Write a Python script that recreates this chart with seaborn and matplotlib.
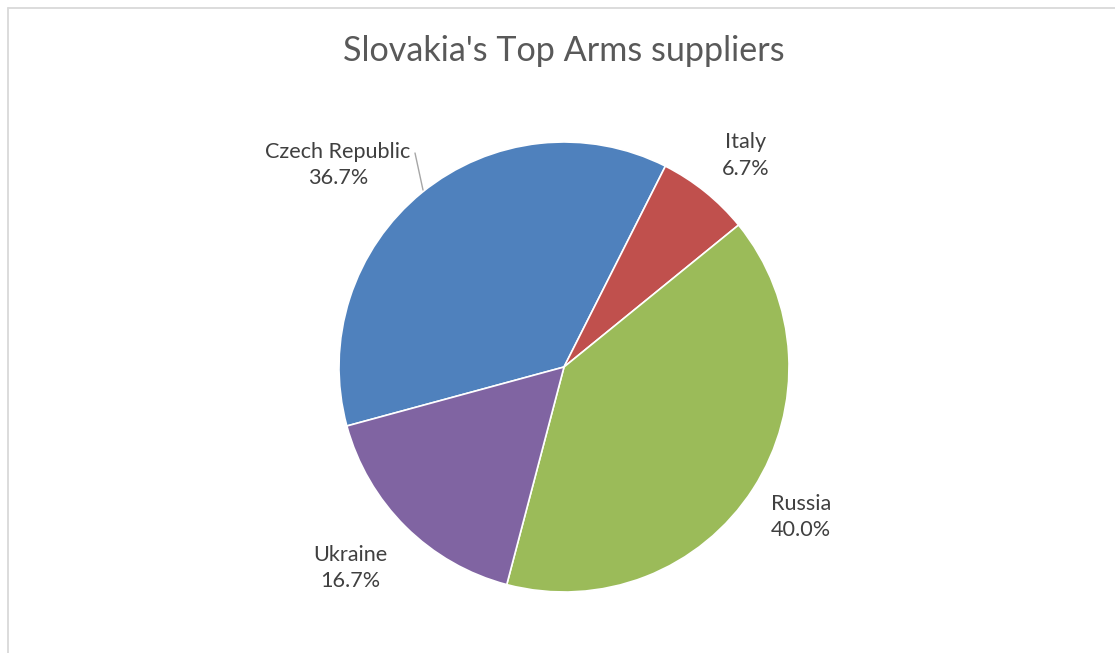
import matplotlib
matplotlib.use("Agg")
import matplotlib.pyplot as plt
import seaborn as sns

# Supplier shares (percent of arms imports)
suppliers = ["Czech Republic", "Italy", "Russia", "Ukraine"]
shares = [36.7, 6.7, 40.0, 16.7]
slice_colors = ["#4F81BD", "#C0504D", "#9BBB59", "#8064A2"]

sns.set_theme(style="white")
plt.rcParams["font.family"] = ["Lato", "DejaVu Sans"]

fig = plt.figure(figsize=(11.15, 6.53), dpi=100)
fig.patch.set_facecolor("white")

# Thin chart-area frame along the top and left edges
fig.add_artist(plt.Line2D([7.5 / 1115, 1.0], [1 - 7.5 / 653] * 2,
                          color="#D9D9D9", lw=1.3, transform=fig.transFigure))
fig.add_artist(plt.Line2D([7.5 / 1115] * 2, [0.0, 1 - 7.5 / 653],
                          color="#D9D9D9", lw=1.3, transform=fig.transFigure))

cx, cy, r = 564, 367, 225
ax = fig.add_axes([(cx - r) / 1115, (653 - cy - r) / 653, 2 * r / 1115, 2 * r / 653])

palette = sns.color_palette(slice_colors)
wedges, _ = ax.pie(shares, colors=palette, startangle=195.2, counterclock=False,
                   radius=1.0, wedgeprops=dict(edgecolor="white", linewidth=1.2))
ax.set_xlim(-1, 1)
ax.set_ylim(-1, 1)
ax.set_aspect("auto")
ax.axis("off")

# Label positions in data units (pie radius = 1)
label_pos = {
    "Czech Republic": (-1.004, 0.898),
    "Italy": (0.809, 0.940),
    "Russia": (1.053, -0.667),
    "Ukraine": (-0.951, -0.893),
}
for name, val in zip(suppliers, shares):
    x, y = label_pos[name]
    ax.text(x, y, f"{name}\n{val:.1f}%", ha="center", va="center",
            fontsize=15.6, color="#404040", linespacing=1.42, clip_on=False)

# Leader line for the Czech Republic label
ax.plot([(415 - cx) / r, (423 - cx) / r], [(cy - 153) / r, (cy - 190) / r],
        color="#A6A6A6", lw=1.0, clip_on=False)

fig.text(564 / 1115, 1 - 51 / 653, "Slovakia's Top Arms suppliers",
         ha="center", va="center", fontsize=24.6, color="#595959")

fig.savefig("out.png", dpi=100, facecolor="white")
